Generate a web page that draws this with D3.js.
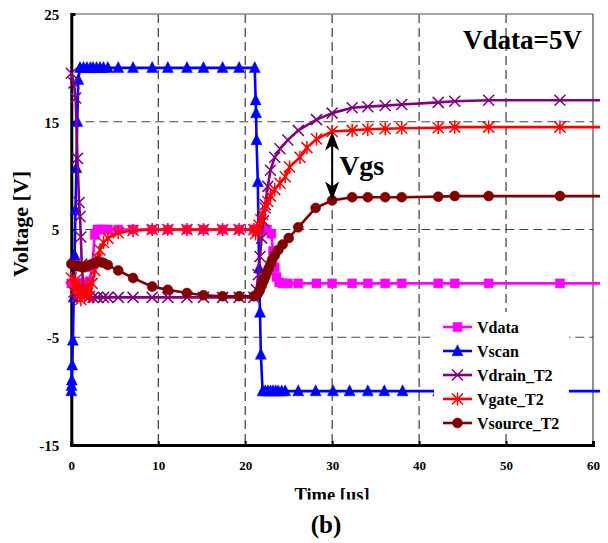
<!DOCTYPE html>
<html>
<head>
<meta charset="utf-8">
<script src="https://cdn.jsdelivr.net/npm/d3@7"></script>
<style>
  html, body { margin: 0; padding: 0; background: #fff; }
  svg { display: block; }
  text { font-family: "Liberation Serif", "Times New Roman", serif; font-weight: bold; fill: #000; }
</style>
</head>
<body>
<script>
// ---------------- DATA ----------------
const seriesNames = ["Vdata", "Vscan", "Vdrain_T2", "Vgate_T2", "Vsource_T2"];
const seriesColors = ["#ff00ff", "#0000ff", "#800080", "#ff0000", "#800000"];
const seriesMarkers = ["square", "triangle", "times", "asterisk", "circle"];

const xTicks = [0, 10, 20, 30, 40, 50, 60];
const yTicks = [-15, -5, 5, 15, 25];

const vdata = [[0,0],[0.3,0],[0.6,0],[0.9,0],[1.2,0],[1.5,0],[1.8,0],[2.1,0.2],[2.4,1.5],[2.7,4.5],[3.0,5],[3.3,5],[3.7,5],[4.2,5],[5.4,5],[7.1,5],[9.3,5],[11.1,5],[13.3,5],[15.2,5],[17.4,5],[19.3,5],[21.0,5],[21.5,5],[22.0,5],[22.5,5],[23.0,4.6],[23.2,3.0],[23.4,1.5],[23.6,0.6],[23.9,0.1],[24.3,0],[24.9,0],[26.1,0],[28.2,0],[30,0],[32.3,0],[34.1,0],[36.1,0],[38,0],[42.2,0],[44.1,0],[48,0],[56.2,0],[60.8,0]];

const vscan = [[0,-10],[0.03,-9.5],[0.06,-9],[0.1,-7.6],[0.18,-5.3],[0.28,-1.3],[0.38,2.6],[0.48,6.8],[0.58,10.7],[0.68,15],[0.8,18.9],[1.0,20],[1.4,20],[1.8,20],[2.2,20],[2.5,20],[2.9,20],[3.3,20],[3.7,20],[4.2,20],[5.4,20],[7.1,20],[9.3,20],[11.1,20],[13.3,20],[15.2,20],[17.4,20],[19.3,20],[21.1,20],[21.2,17],[21.25,15.8],[21.3,13.3],[21.45,9.4],[21.6,1.4],[21.7,-2.7],[21.8,-6.6],[22.0,-10],[22.3,-10],[22.6,-10],[22.9,-10],[23.2,-10],[23.5,-10],[23.8,-10],[24.2,-10],[24.6,-10],[26.1,-10],[28.1,-10],[30.1,-10],[32.0,-10],[34.1,-10],[36.0,-10],[38.1,-10],[42.2,-10],[44.1,-10],[48,-10],[56.2,-10],[60.8,-10]];

const vdrain = [[0,19.5],[0.3,18.6],[0.5,17.2],[0.7,11.6],[0.9,7.5],[1.0,6.2],[1.1,4.3],[1.2,1.8],[1.4,-0.5],[1.6,-1.2],[2.0,-1.3],[2.5,-1.3],[3.0,-1.3],[3.7,-1.3],[4.2,-1.3],[5.4,-1.3],[7.1,-1.3],[9.3,-1.3],[11.1,-1.3],[13.3,-1.3],[15.2,-1.3],[17.4,-1.3],[19.3,-1.3],[21.0,-1.3],[21.3,-0.6],[21.5,0.8],[21.7,2.5],[21.9,4.2],[22.1,5.8],[22.3,7.3],[22.6,9.0],[22.9,10.5],[23.4,11.7],[24.0,12.5],[24.9,13.3],[26.1,14.2],[28.2,15.2],[30,15.8],[32.3,16.3],[34.1,16.4],[36.1,16.5],[38,16.6],[42.2,16.8],[44.1,16.9],[48,17.0],[56.2,17.0],[60.8,17.0]];

const vgate = [[0,0.5],[0.3,-0.8],[0.5,0.3],[0.7,-1.2],[0.9,-0.2],[1.1,-1.5],[1.3,-0.6],[1.5,-1.0],[1.8,-0.3],[2.1,-1.2],[2.4,0.0],[2.7,1.2],[3.0,2.3],[3.3,3.1],[3.7,3.8],[4.2,4.2],[5.4,4.7],[7.1,4.9],[9.3,5.0],[11.1,5.0],[13.3,5.0],[15.2,5.0],[17.4,5.0],[19.3,5.0],[21.0,5.0],[21.2,4.6],[21.4,4.9],[21.6,5.4],[21.8,5.9],[22.0,6.4],[22.3,7.0],[22.6,7.6],[22.9,8.1],[23.4,8.7],[24.0,9.3],[24.6,9.9],[25.1,10.8],[26.3,11.7],[27.1,12.6],[28.2,13.4],[30,14.1],[32.3,14.2],[34.1,14.3],[36.1,14.35],[38,14.4],[42.2,14.45],[44.1,14.5],[48,14.5],[56.2,14.5],[60.8,14.5]];

const vsource = [[0,1.8],[0.3,1.7],[0.6,1.6],[0.9,1.6],[1.2,1.5],[1.5,1.5],[1.8,1.6],[2.1,1.7],[2.4,1.8],[2.7,1.9],[3.0,2.0],[3.3,2.0],[3.7,1.9],[4.2,1.7],[5.4,1.2],[7.1,0.5],[9.3,-0.3],[11.1,-0.6],[13.3,-0.9],[15.2,-1.1],[17.4,-1.2],[19.3,-1.2],[21.0,-1.2],[21.3,-1.1],[21.5,-0.9],[21.7,-0.6],[21.9,-0.2],[22.1,0.2],[22.3,0.6],[22.5,1.0],[22.7,1.4],[22.9,1.8],[23.1,2.2],[23.4,2.6],[23.8,3.1],[24.3,3.6],[25.0,4.2],[26.1,5.2],[28.1,7.0],[30,7.7],[32.3,8.0],[34.1,8.0],[36.1,8.0],[38,8.0],[42.2,8.05],[44.1,8.1],[48,8.1],[56.2,8.1],[60.8,8.1]];

const allSeries = [vdata, vscan, vdrain, vgate, vsource];
const annotationTitle = "Vdata=5V";
const annotationArrowT = 30;
const annotationLabel = "Vgs";

// ---------------- CHART ----------------
const W = 608, H = 543;
const FONT = "'Liberation Serif', 'Times New Roman', serif";
const m = { left: 71.3, right: 593, top: 14, bottom: 445 };
const svg = d3.select("body").append("svg").attr("width", W).attr("height", H)
  .attr("font-family", FONT).attr("font-weight", "bold");

const x = d3.scaleLinear().domain([0, 60]).range([m.left, m.right]);
const y = d3.scaleLinear().domain([-15, 25]).range([m.bottom, m.top]);

// grid
const grid = svg.append("g");
grid.selectAll("line.v").data(xTicks.filter(t => t > 0 && t < 60)).enter().append("line")
  .attr("x1", d => x(d)).attr("x2", d => x(d)).attr("y1", m.top).attr("y2", m.bottom)
  .attr("stroke", "#111").attr("stroke-width", 1).attr("stroke-dasharray", "9,5");
grid.selectAll("line.h").data(yTicks.filter(t => t > -15 && t < 25)).enter().append("line")
  .attr("x1", m.left).attr("x2", m.right).attr("y1", d => y(d)).attr("y2", d => y(d))
  .attr("stroke", "#444").attr("stroke-width", 1).attr("stroke-dasharray", "9,5");

// border top/right
svg.append("line").attr("x1", m.left).attr("x2", m.right).attr("y1", m.top).attr("y2", m.top)
  .attr("stroke", "#888").attr("stroke-width", 1.5);
svg.append("line").attr("x1", m.right).attr("x2", m.right).attr("y1", m.top).attr("y2", m.bottom)
  .attr("stroke", "#222").attr("stroke-width", 1);

// axes
const fmt = d => String(d);
const yAxis = d3.axisLeft(y).tickValues(yTicks).tickSize(-4).tickPadding(12).tickFormat(fmt);
const gy = svg.append("g").attr("transform", `translate(${m.left},0)`).call(yAxis)
  .attr("font-family", FONT).attr("font-weight", "bold");
gy.select(".domain").attr("stroke", "#000").attr("stroke-width", 3);
gy.selectAll(".tick line").attr("stroke", "#000").attr("stroke-width", 2);
gy.selectAll(".tick text").style("font-size", "15px").attr("dy", "0.35em");

const xAxis = d3.axisBottom(x).tickValues(xTicks).tickSize(-4).tickPadding(16).tickFormat(fmt);
const gx = svg.append("g").attr("transform", `translate(0,${m.bottom})`).call(xAxis)
  .attr("font-family", FONT).attr("font-weight", "bold");
gx.select(".domain").attr("stroke", "#000").attr("stroke-width", 3);
gx.selectAll(".tick line").attr("stroke", "#000").attr("stroke-width", 2);
gx.selectAll(".tick text").style("font-size", "13px");

// markers
function markerPath(type, s) {
  const h = s / 2;
  switch (type) {
    case "square": return `M${-h},${-h}H${h}V${h}H${-h}Z`;
    case "triangle": return `M0,${-h * 1.15}L${h},${h * 0.85}L${-h},${h * 0.85}Z`;
    case "times": return `M${-h},${-h}L${h},${h}M${-h},${h}L${h},${-h}`;
    case "asterisk": return `M${-h},${-h}L${h},${h}M${-h},${h}L${h},${-h}M0,${-h * 1.2}V${h * 1.2}`;
    case "circle": return d3.symbol(d3.symbolCircle, Math.PI * h * h)();
  }
}
function drawMarker(g, type, color, s) {
  const filled = (type === "square" || type === "triangle" || type === "circle");
  g.append("path").attr("d", markerPath(type, s))
    .attr("fill", filled ? color : "none")
    .attr("stroke", color).attr("stroke-width", filled ? 0.5 : 1.5);
}
const markerSize = [9, 11, 11, 11, 10];

const line = d3.line().x(d => x(d[0])).y(d => y(d[1]));
allSeries.forEach((data, i) => {
  const g = svg.append("g");
  g.append("path").datum(data).attr("d", line)
    .attr("fill", "none").attr("stroke", seriesColors[i]).attr("stroke-width", 2.6)
    .attr("stroke-linejoin", "round");
  data.filter(d => d[0] <= 60).forEach(d => {
    const mg = g.append("g").attr("transform", `translate(${x(d[0])},${y(d[1])})`);
    drawMarker(mg, seriesMarkers[i], seriesColors[i], markerSize[i]);
  });
});

// Vgs arrow
const vgAt = vgate.find(d => d[0] === annotationArrowT)[1];
const vsAt = vsource.find(d => d[0] === annotationArrowT)[1];
const ax = x(annotationArrowT), ay1 = y(vgAt), ay2 = y(vsAt);
svg.append("line").attr("x1", ax).attr("x2", ax).attr("y1", ay1 + 10).attr("y2", ay2 - 10)
  .attr("stroke", "#000").attr("stroke-width", 2);
svg.append("path").attr("d", `M${ax},${ay1}L${ax + 7},${ay1 + 19}L${ax},${ay1 + 14}L${ax - 7},${ay1 + 19}Z`).attr("fill", "#000");
svg.append("path").attr("d", `M${ax},${ay2}L${ax + 7},${ay2 - 19}L${ax},${ay2 - 14}L${ax - 7},${ay2 - 19}Z`).attr("fill", "#000");
svg.append("text").attr("x", ax + 7).attr("y", (ay1 + ay2) / 2 + 9).style("font-size", "28px").text(annotationLabel);

// Vdata=5V
svg.append("text").attr("x", 582).attr("y", 49).attr("text-anchor", "end").style("font-size", "27px").text(annotationTitle);

// Legend
const lg = svg.append("g");
lg.append("rect").attr("x", 434).attr("y", 312).attr("width", 135).attr("height", 122).attr("fill", "#fff");
seriesNames.forEach((name, i) => {
  const ry = 327 + i * 24;
  const g = lg.append("g").attr("transform", `translate(0,${ry})`);
  g.append("line").attr("x1", 443).attr("x2", 472).attr("y1", 0).attr("y2", 0)
    .attr("stroke", seriesColors[i]).attr("stroke-width", 2.6);
  const mg = g.append("g").attr("transform", `translate(457.5,0)`);
  drawMarker(mg, seriesMarkers[i], seriesColors[i], markerSize[i]);
  g.append("text").attr("x", 477).attr("y", 5.5).style("font-size", "16px").text(name);
});

// axis titles
svg.append("text").attr("transform", "translate(28,224) rotate(-90)").attr("text-anchor", "middle")
  .style("font-size", "22px").text("Voltage [V]");
svg.append("defs").append("clipPath").attr("id", "tclip").append("rect")
  .attr("x", 0).attr("y", 470).attr("width", W).attr("height", 29.5);
svg.append("text").attr("x", 332).attr("y", 501).attr("text-anchor", "middle")
  .attr("clip-path", "url(#tclip)").style("font-size", "18.5px").text("Time [us]");
svg.append("text").attr("x", 326).attr("y", 533).attr("text-anchor", "middle")
  .style("font-size", "25px").text("(b)");
</script>
</body>
</html>
